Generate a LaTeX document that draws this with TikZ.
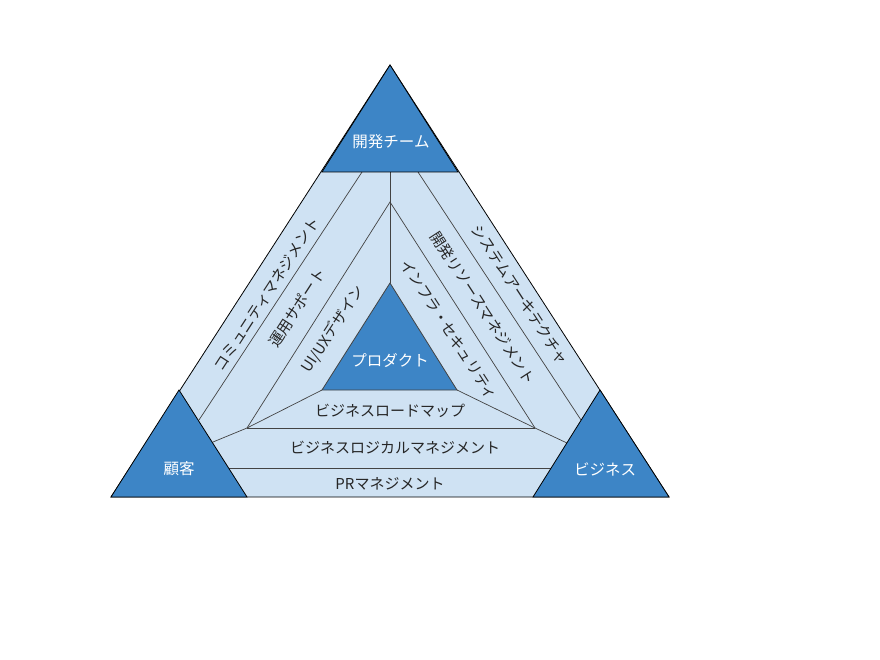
\documentclass[tikz,border=0pt]{standalone}
\usepackage{fontspec}
\setmainfont{Noto Sans CJK JP}
\usepackage{xcolor}
\usepackage{tikz}
\usetikzlibrary{calc, positioning}
\definecolor{bandblue}{HTML}{CFE2F3}
\definecolor{cornerblue}{HTML}{3D85C6}
\definecolor{linegray}{HTML}{434343}

\begin{document}
\begin{tikzpicture}[x=1pt, y=-1pt]
		\tikzstyle{band} = [draw=black, fill=bandblue, line width=0.8pt]
		\tikzstyle{corner} = [draw=black, fill=cornerblue, line width=0.8pt]
		\tikzstyle{divide} = [draw=linegray, line width=0.7pt]
		\tikzstyle{bandtext} = [font=\fontsize{15}{15}\selectfont, text=black!85, inner sep=0pt]
		\tikzstyle{cornertext} = [font=\fontsize{15.5}{15.5}\selectfont, text=white, inner sep=0pt]
		
		\useasboundingbox (0, 0) rectangle (880, 660);
		
		% outer triangle
		\coordinate (top) 	at (390, 65);
		\coordinate (bl) 	at (111, 497);
		\coordinate (br) 	at (669, 497);
		% corner triangles
		\coordinate (topL) 	at (322, 172);
		\coordinate (topR) 	at (458, 172);
		\coordinate (topM) 	at (390, 172);
		\coordinate (blA) 	at (179, 390);
		\coordinate (blB) 	at (247, 497);
		\coordinate (brA) 	at (600, 390);
		\coordinate (brB) 	at (533, 497);
		% product triangle
		\coordinate (inA) 	at (390, 283);
		\coordinate (inL) 	at (322, 390);
		\coordinate (inR) 	at (457, 390);
		% middle triangle
		\coordinate (midA) 	at (390, 202);
		\coordinate (midL) 	at (247, 428);
		\coordinate (midR) 	at (535, 428);
		% band separators
		\coordinate (sepL1) at (362, 172);
		\coordinate (sepL2) at (199, 420);
		\coordinate (sepR1) at (418, 172);
		\coordinate (sepR2) at (581, 420);
		\coordinate (jointL) at (213, 442);
		\coordinate (jointR) at (567, 443);
		\coordinate (botL) 	at (229, 468);
		\coordinate (botR) 	at (551, 468);
		
		\draw[band] (top) -- (bl) -- (br) -- cycle;
		
		\draw[divide] (topM) -- (inA);
		\draw[divide] (sepL1) -- (sepL2);
		\draw[divide] (sepR1) -- (sepR2);
		\draw[divide] (jointL) -- (midL) -- (midA) -- (midR) -- (jointR);
		\draw[divide] (midL) -- (inL);
		\draw[divide] (midR) -- (inR);
		\draw[divide] (midL) -- (midR);
		\draw[divide] (botL) -- (botR);
		
		\draw[corner] (top) -- (topL) -- (topR) -- cycle;
		\draw[corner] (blA) -- (bl) -- (blB) -- cycle;
		\draw[corner] (brA) -- (brB) -- (br) -- cycle;
		\draw[corner, draw=linegray] (inA) -- (inL) -- (inR) -- cycle;
		
		\node[cornertext] 	at (391, 142) 	(dev) 		{開発チーム};
		\node[cornertext] 	at (179, 469) 	(client) 	{顧客};
		\node[cornertext] 	at (605, 469) 	(biz) 		{ビジネス};
		\node[cornertext] 	at (390, 360) 	(product) 	{プロダクト};
		
		\node[bandtext, rotate=57] 	at (267, 294) 	(community) {コミュニティマネジメント};
		\node[bandtext, rotate=57] 	at (297, 308) 	(ops) 		{運用サポート};
		\node[bandtext, rotate=57] 	at (333, 329) 	(uiux) 		{UI/UXデザイン};
		\node[bandtext, rotate=-57] at (520, 295) 	(arch) 		{システムアーキテクチャ};
		\node[bandtext, rotate=-57] at (483, 308) 	(resource) 	{開発リソースマネジメント};
		\node[bandtext, rotate=-57] at (449, 330) 	(infra) 	{インフラ・セキュリティ};
		
		\node[bandtext] 	at (390, 411) 	(roadmap) 	{ビジネスロードマップ};
		\node[bandtext] 	at (395, 448) 	(logic) 	{ビジネスロジカルマネジメント};
		\node[bandtext] 	at (390, 484) 	(pr) 		{PRマネジメント};
	\end{tikzpicture}
\end{document}
